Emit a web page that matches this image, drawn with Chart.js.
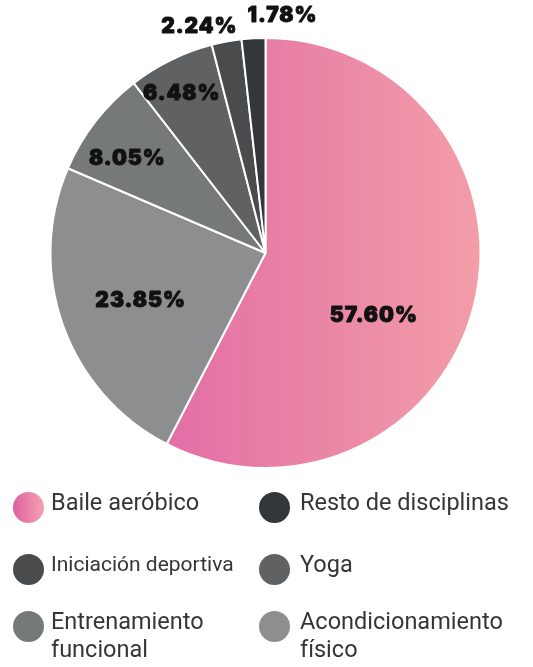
<!DOCTYPE html>
<html>
<head>
<meta charset="utf-8">
<script src="https://cdn.jsdelivr.net/npm/chart.js@4.4.0/dist/chart.umd.min.js"></script>
<style>
  html, body { margin: 0; padding: 0; background: #fff; }
  body { width: 533px; height: 667px; overflow: hidden; position: relative; font-family: Roboto, sans-serif; }
  #wrap { position: absolute; left: 0; top: 0; width: 533px; height: 475px; }
  #legend { position: absolute; left: 0; top: 0; width: 533px; height: 667px; pointer-events: none; }
  .item { color: #363636; font-size: 23.5px; line-height: 28px; }
  .dot { position: absolute; width: 31px; height: 31px; border-radius: 50%; }
  .txt { position: absolute; white-space: nowrap; }
</style>
</head>
<body>
<div id="wrap"><canvas id="pie"></canvas></div>
<div id="legend"></div>
<script>
// valores del gráfico (orden horario desde las 12)
const labels = ['Baile aeróbico', 'Acondicionamiento físico', 'Entrenamiento funcional', 'Yoga', 'Iniciación deportiva', 'Resto de disciplinas'];
const values = [57.60, 23.85, 8.05, 6.48, 2.24, 1.78];
const valueText = ['57.60%', '23.85%', '8.05%', '6.48%', '2.24%', '1.78%'];

// colores grises por categoría (el rosa es degradado)
const grays = [null, '#8c8e8f', '#76797a', '#5f6162', '#4a4b4c', '#33363a'];

// colocación de etiquetas: fracción del radio y desplazamiento angular (grados)
const labelLayout = [
  { r: 0.58, shift: 16 },
  { r: 0.62, shift: -0.7 },
  { r: 0.78, shift: -3.2 },
  { r: 0.84, shift: -1.5 },
  { r: 1.10, shift: -5.8 },
  { r: 1.11, shift: 7.3 }
];

function pinkGradient(ctx) {
  const g = ctx.createLinearGradient(165, 0, 482, 0);
  g.addColorStop(0, '#e26ea6');
  g.addColorStop(0.5, '#ea86a5');
  g.addColorStop(1, '#f39ea9');
  return g;
}

const labelPlugin = {
  id: 'sliceLabels',
  afterDatasetsDraw(chart) {
    const ctx = chart.ctx;
    const meta = chart.getDatasetMeta(0);
    ctx.save();
    ctx.font = '900 21px Inter, sans-serif';
    ctx.letterSpacing = '1px';
    ctx.textAlign = 'center';
    ctx.textBaseline = 'middle';
    ctx.lineJoin = 'round';
    meta.data.forEach((arc, i) => {
      const p = arc.getProps(['x', 'y', 'startAngle', 'endAngle', 'outerRadius'], true);
      const a = (p.startAngle + p.endAngle) / 2 + labelLayout[i].shift * Math.PI / 180;
      const r = p.outerRadius * labelLayout[i].r;
      const x = p.x + Math.cos(a) * r;
      const y = p.y + Math.sin(a) * r;
      if (labelLayout[i].r > 1) {
        // fondo blanco para las etiquetas exteriores
        const w = ctx.measureText(valueText[i]).width + 6;
        ctx.fillStyle = '#fff';
        ctx.fillRect(x - w / 2, y - 12, w, 24);
      }
      ctx.fillStyle = '#111';
      ctx.strokeStyle = '#111';
      ctx.lineWidth = 0.9;
      ctx.strokeText(valueText[i], x, y + 1);
      ctx.fillText(valueText[i], x, y + 1);
    });
    ctx.restore();
  }
};

new Chart(document.getElementById('pie'), {
  type: 'pie',
  data: {
    labels: labels,
    datasets: [{
      data: values,
      backgroundColor: (c) => c.dataIndex === 0 ? pinkGradient(c.chart.ctx) : grays[c.dataIndex],
      borderColor: '#ffffff',
      borderWidth: 2
    }]
  },
  options: {
    responsive: true,
    maintainAspectRatio: false,
    animation: false,
    layout: { padding: { top: 37, left: 49, right: 51, bottom: 6 } },
    plugins: {
      legend: { display: false },
      tooltip: { enabled: false }
    }
  },
  plugins: [labelPlugin]
});

// leyenda en dos columnas
const legendOrder = [
  { i: 0, col: 0, row: 0, text: 'Baile aeróbico' },
  { i: 5, col: 1, row: 0, text: 'Resto de disciplinas' },
  { i: 4, col: 0, row: 1, text: 'Iniciación deportiva', small: true },
  { i: 3, col: 1, row: 1, text: 'Yoga' },
  { i: 2, col: 0, row: 2, text: 'Entrenamiento<br>funcional' },
  { i: 1, col: 1, row: 2, text: 'Acondicionamiento<br>físico' }
];
const rowY = [507, 569, 626];
const colX = [28, 274];
const legend = document.getElementById('legend');
legendOrder.forEach(it => {
  const dot = document.createElement('div');
  dot.className = 'dot';
  dot.style.left = (colX[it.col] - 15.5) + 'px';
  dot.style.top = (rowY[it.row] - 15.5) + 'px';
  dot.style.background = it.i === 0 ? 'linear-gradient(90deg, #e05fa0, #f4a2b1)' : grays[it.i];
  legend.appendChild(dot);
  const t = document.createElement('div');
  t.className = 'txt item';
  t.style.left = (colX[it.col] + 23 + it.col * 3) + 'px';
  t.style.top = (rowY[it.row] - 19) + 'px';
  if (it.small) { t.style.fontSize = '21px'; t.style.top = (rowY[it.row] - 19) + 'px'; }
  t.innerHTML = it.text;
  legend.appendChild(t);
});
</script>
</body>
</html>
